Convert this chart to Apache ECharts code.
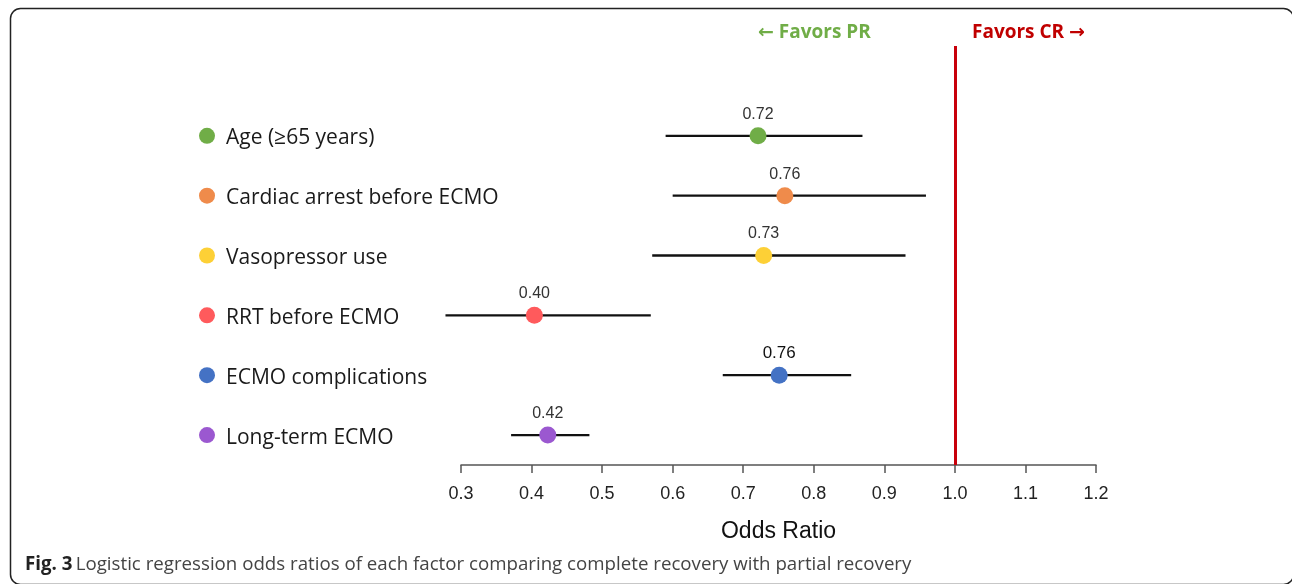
<!DOCTYPE html>
<html><head><meta charset="utf-8">
<script src="https://cdn.jsdelivr.net/npm/echarts@6/dist/echarts.min.js"></script>
<style>html,body{margin:0;padding:0;background:#fff}#c{width:1292px;height:584px}</style>
</head><body><div id="c"></div>
<script>
const categories = ['Age (\u226565 years)', 'Cardiac arrest before ECMO', 'Vasopressor use', 'RRT before ECMO', 'ECMO complications', 'Long-term ECMO'];
const oddsRatio = [0.721, 0.759, 0.729, 0.404, 0.751, 0.423];
const oddsLabels = ['0.72', '0.76', '0.73', '0.40', '0.76', '0.42'];
const ciLower = [0.590, 0.600, 0.571, 0.278, 0.671, 0.371];
const ciUpper = [0.869, 0.959, 0.930, 0.569, 0.853, 0.482];
const colors = ['#70ad47', '#ef8b4b', '#fdd036', '#ff5a5c', '#4472c4', '#9b58d0'];
const xMin = 0.3, xMax = 1.2, xStep = 0.1, refLine = 1.0;
const captionBold = 'Fig. 3';
const captionText = 'Logistic regression odds ratios of each factor comparing complete recovery with partial recovery';

const chart = echarts.init(document.getElementById('c'));
const yCats = [''].concat(categories);
const rich = { t: { fontFamily: 'Open Sans', fontSize: 21, color: '#1a1a1a', padding: [5, 0, 0, 11] } };
colors.forEach((c, i) => { rich['d' + i] = { width: 16, height: 16, borderRadius: 8, backgroundColor: c }; });

chart.setOption({
  animation: false,
  grid: { left: 461, right: 196, top: 46, bottom: 119 },
  xAxis: {
    type: 'value', min: xMin, max: xMax, interval: xStep,
    axisLine: { show: true, lineStyle: { color: '#555', width: 1.5 } },
    axisTick: { show: true, length: 8, lineStyle: { color: '#555', width: 1.5 } },
    splitLine: { show: false },
    axisLabel: { margin: 20, fontSize: 18, color: '#222', fontFamily: 'Liberation Sans', formatter: v => v.toFixed(1) },
    name: 'Odds Ratio', nameLocation: 'middle', nameGap: 55,
    nameTextStyle: { fontSize: 23, color: '#111', fontFamily: 'Liberation Sans' }
  },
  yAxis: {
    type: 'category', inverse: true, data: yCats,
    axisLine: { show: false }, axisTick: { show: false }, splitLine: { show: false },
    axisLabel: {
      align: 'left', margin: 262,
      formatter: (v, i) => i === 0 ? '' : '{d' + (i - 1) + '| }{t|' + v + '}',
      rich: rich
    }
  },
  series: [
    {
      type: 'custom', clip: false, z: 2,
      encode: { x: [0, 1], y: 2 },
      data: categories.map((c, i) => [ciLower[i], ciUpper[i], c]),
      renderItem: (params, api) => {
        const p1 = api.coord([api.value(0), api.value(2)]);
        const p2 = api.coord([api.value(1), api.value(2)]);
        return { type: 'line', shape: { x1: p1[0], y1: p1[1], x2: p2[0], y2: p2[1] }, style: { stroke: '#111', lineWidth: 2.3 } };
      }
    },
    {
      type: 'scatter', z: 3, symbolSize: 17,
      data: categories.map((c, i) => ({
        value: [oddsRatio[i], c],
        itemStyle: { color: colors[i], opacity: 1 },
        label: i === 4 ? { formatter: oddsLabels[i], fontSize: 17, color: '#111' } : { formatter: oddsLabels[i] }
      })),
      label: { show: true, position: 'top', distance: 5, fontSize: 16, color: '#333', fontFamily: 'Liberation Sans' },
      markLine: {
        silent: true, symbol: 'none', label: { show: false },
        lineStyle: { color: '#c8000a', width: 3, type: 'solid' },
        data: [{ xAxis: refLine }]
      }
    }
  ],
  graphic: [
    { type: 'rect', shape: { x: 10.5, y: 8.5, width: 1283, height: 576, r: 10 }, style: { fill: 'none', stroke: '#222', lineWidth: 1.5 } },
    { type: 'text', x: 758, y: 33, style: { text: '\u2190 Favors PR', font: 'bold 19px "Open Sans", "DejaVu Sans"', fill: '#70ad47', verticalAlign: 'middle' } },
    { type: 'text', x: 972, y: 33, style: { text: 'Favors CR \u2192', font: 'bold 19px "Open Sans", "DejaVu Sans"', fill: '#c00000', verticalAlign: 'middle' } },
    { type: 'text', x: 25, y: 565, style: {
        text: '{b|' + captionBold + '} {n|' + captionText + '}', verticalAlign: 'middle',
        rich: { b: { fontFamily: 'Open Sans', fontWeight: 'bold', fontSize: 18.7, fill: '#222' }, n: { fontFamily: 'Open Sans', fontSize: 18.7, fill: '#444' } }
    } }
  ]
});
</script></body></html>
